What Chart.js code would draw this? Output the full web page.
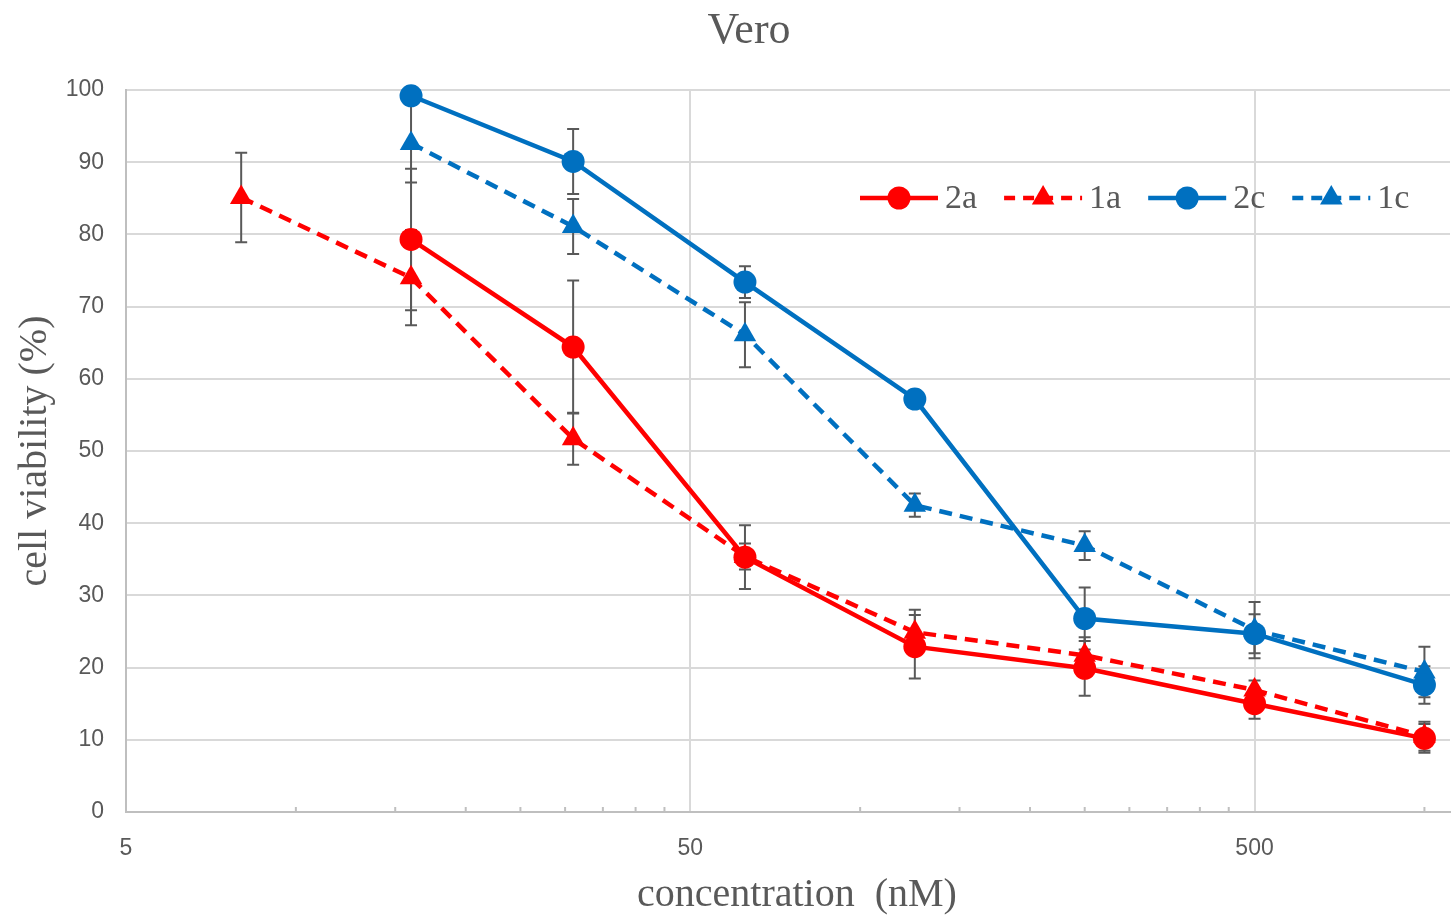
<!DOCTYPE html>
<html>
<head>
<meta charset="utf-8">
<script src="https://cdn.jsdelivr.net/npm/chart.js@4.4.1/dist/chart.umd.min.js"></script>
<style>
html,body{margin:0;padding:0;background:#fff;}
#wrap{width:1451px;height:918px;}
</style>
</head>
<body>
<div id="wrap"><canvas id="c" width="1451" height="918"></canvas></div>
<script>
// ---- data ----
const concentrations = [8, 16, 31, 62.5, 125, 250, 500, 1000];
const xTickValues = [5, 50, 500];
const xMinorTicks = [10, 15, 20, 25, 30, 35, 40, 45, 100, 150, 200, 250, 300, 350, 400, 450, 1000];
const yTickLabels = [0, 10, 20, 30, 40, 50, 60, 70, 80, 90, 100];

const seriesNames = ['2a', '1a', '2c', '1c'];
const v2a = [null, 79.3, 64.4, 35.3, 22.9, 19.9, 15.0, 10.2];
const e2a = [null, 9.8, 9.2, 4.4, 4.4, 3.8, 2.1, 2.0];
const v1a = [85.1, 74.0, 51.7, 35.4, 24.9, 21.7, 16.9, 10.5];
const e1a = [6.2, 6.6, 3.6, 1.8, 3.1, 2.5, 1.3, 2.0];
const v2c = [null, 99.2, 90.1, 73.4, 57.2, 26.8, 24.7, 17.6];
const e2c = [null, 0.8, 4.5, 2.2, 1.2, 4.3, 2.7, 2.6];
const v1c = [null, 92.6, 81.1, 66.1, 42.5, 36.9, 25.2, 19.4];
const e1c = [null, 5.4, 3.8, 4.5, 1.6, 2.0, 3.9, 3.5];

const RED = '#FF0000', BLUE = '#0070C0', GRAY = '#595959';
const SERIF = '"Liberation Serif", "Times New Roman", serif';
const SANS = '"Liberation Sans", Arial, sans-serif';

function pts(vals){ return concentrations.map((c,i)=>({x:c, y:vals[i]})); }

function makeDs(label, vals, errs, color, dashed, style){
  return {
    label: label,
    data: pts(vals),
    errors: errs,
    borderColor: color,
    backgroundColor: color,
    borderWidth: 4.5,
    borderDash: dashed ? [13, 8] : [],
    pointStyle: style,
    pointRadius: style === 'triangle' ? 13 : 11.5,
    pointHoverRadius: style === 'triangle' ? 13 : 11.5,
    pointBorderWidth: 0,
    pointBackgroundColor: color,
    tension: 0,
    clip: false
  };
}

const textPlugin = {
  id: 'texts',
  afterDraw(chart){
    const ctx = chart.ctx;
    ctx.save();
    ctx.fillStyle = GRAY;
    ctx.textAlign = 'center';
    ctx.textBaseline = 'middle';
    ctx.font = '44px ' + SERIF;
    ctx.fillText('Vero', 749, 31);
    ctx.font = '40px ' + SERIF;
    ctx.fillText('concentration  (nM)', 797, 895);
    ctx.restore();
  }
};

const errorBarPlugin = {
  id: 'errorBars',
  beforeDatasetsDraw(chart){
    const ctx = chart.ctx, ys = chart.scales.y;
    ctx.save();
    ctx.strokeStyle = GRAY; ctx.lineWidth = 2; ctx.setLineDash([]);
    chart.data.datasets.forEach((ds, di) => {
      const meta = chart.getDatasetMeta(di);
      meta.data.forEach((el, i) => {
        const v = ds.data[i].y, e = ds.errors[i];
        if (v == null || e == null || el.skip) return;
        const x = el.x;
        const yt = ys.getPixelForValue(v + e), yb = ys.getPixelForValue(v - e);
        ctx.beginPath();
        ctx.moveTo(x, yt); ctx.lineTo(x, yb);
        ctx.moveTo(x-6, yt); ctx.lineTo(x+6, yt);
        ctx.moveTo(x-6, yb); ctx.lineTo(x+6, yb);
        ctx.stroke();
      });
    });
    ctx.restore();
  }
};

const minorTickPlugin = {
  id: 'minorTicks',
  afterDatasetsDraw(chart){
    const ctx = chart.ctx, xs = chart.scales.x, b = chart.chartArea.bottom;
    ctx.save();
    ctx.strokeStyle = '#bfbfbf'; ctx.lineWidth = 2;
    xMinorTicks.forEach(v => {
      const x = xs.getPixelForValue(v);
      ctx.beginPath(); ctx.moveTo(x, b); ctx.lineTo(x, b - 5); ctx.stroke();
    });
    ctx.restore();
  }
};

const legendPlugin = {
  id: 'customLegend',
  afterDraw(chart){
    const ctx = chart.ctx;
    let x = 860; const y = 198;
    ctx.save();
    ctx.font = '34px ' + SERIF;
    ctx.textBaseline = 'middle';
    ctx.textAlign = 'left';
    chart.data.datasets.forEach(ds => {
      const L = 78;
      ctx.strokeStyle = ds.borderColor; ctx.lineWidth = 4.5;
      ctx.setLineDash(ds.borderDash.length ? [11, 8] : []);
      ctx.beginPath(); ctx.moveTo(x, y); ctx.lineTo(x + L, y); ctx.stroke();
      ctx.setLineDash([]);
      ctx.fillStyle = ds.borderColor;
      Chart.helpers.drawPoint(ctx, {pointStyle: ds.pointStyle, radius: ds.pointRadius, borderWidth: 0, rotation: 0}, x + L/2, y);
      ctx.fillStyle = GRAY;
      const tx = x + L + 7;
      ctx.fillText(ds.label, tx, y + 1);
      x = tx + ctx.measureText(ds.label).width + 27;
    });
    ctx.restore();
  }
};

const datasets = [
  makeDs(seriesNames[0], v2a, e2a, RED, false, 'circle'),
  makeDs(seriesNames[1], v1a, e1a, RED, true, 'triangle'),
  makeDs(seriesNames[2], v2c, e2c, BLUE, false, 'circle'),
  makeDs(seriesNames[3], v1c, e1c, BLUE, true, 'triangle')
];

new Chart(document.getElementById('c'), {
  type: 'line',
  data: { datasets: datasets },
  plugins: [errorBarPlugin, minorTickPlugin, legendPlugin, textPlugin],
  options: {
    responsive: false,
    animation: false,
    devicePixelRatio: 1,
    layout: { autoPadding: false, padding: { left: 0, right: 1, top: 90, bottom: 0 } },
    plugins: {
      legend: { display: false },
      tooltip: { enabled: false },
      title: { display: false }
    },
    scales: {
      x: {
        type: 'logarithmic',
        min: 5,
        max: 1110,
        afterBuildTicks(scale){ scale.ticks = xTickValues.map(v => ({value: v, major: false})); },
        afterFit(scale){ scale.height = 106; },
        grid: { color: '#d9d9d9', lineWidth: 2, drawTicks: false },
        border: { color: '#bfbfbf', width: 2 },
        ticks: {
          color: GRAY,
          font: { family: SANS, size: 23 },
          padding: 23,
          maxRotation: 0,
          autoSkip: false,
          callback: (v) => String(v)
        },
        title: { display: false }
      },
      y: {
        type: 'linear',
        min: 0,
        max: 100,
        afterBuildTicks(scale){ scale.ticks = yTickLabels.map(v => ({value: v})); },
        afterFit(scale){ scale.width = 126; },
        grid: { color: '#d9d9d9', lineWidth: 2, drawTicks: false },
        border: { color: '#bfbfbf', width: 2 },
        ticks: {
          color: GRAY,
          font: { family: SANS, size: 23 },
          padding: 22
        },
        title: {
          display: true,
          text: 'cell viability (%)',
          color: GRAY,
          font: { family: SERIF, size: 40, lineHeight: 1.2 },
          padding: { top: 11, bottom: 0 }
        }
      }
    }
  }
});
</script>
</body>
</html>
